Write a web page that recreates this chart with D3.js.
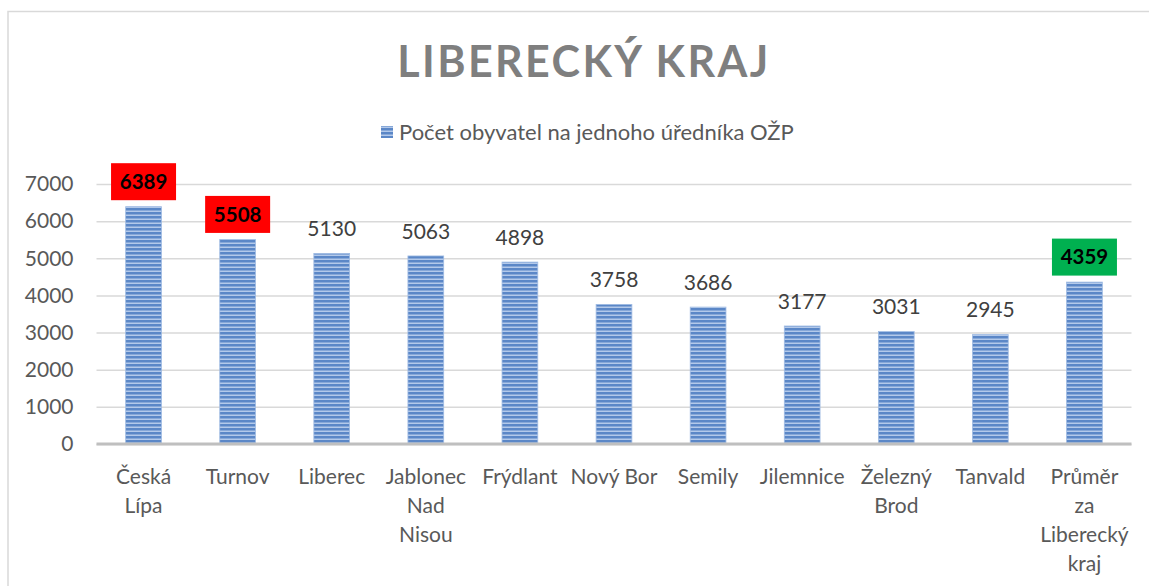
<!DOCTYPE html>
<html>
<head>
<meta charset="utf-8">
<script src="https://cdn.jsdelivr.net/npm/d3@7"></script>
<style>
  body { margin: 0; background: #fff; }
  svg text { font-family: Lato, "Open Sans", sans-serif; }
</style>
</head>
<body>
<div id="chart"></div>
<script>
var svgWidth = 1149;
var svgHeight = 586;

// data
var categories = [
  ["Česká", "Lípa"],
  ["Turnov"],
  ["Liberec"],
  ["Jablonec", "Nad", "Nisou"],
  ["Frýdlant"],
  ["Nový Bor"],
  ["Semily"],
  ["Jilemnice"],
  ["Železný", "Brod"],
  ["Tanvald"],
  ["Průměr", "za", "Liberecký", "kraj"]
];
var values = [6389, 5508, 5130, 5063, 4898, 3758, 3686, 3177, 3031, 2945, 4359];
var highlight = ["#ff0000", "#ff0000", null, null, null, null, null, null, null, null, "#00b050"];
var yTicks = [0, 1000, 2000, 3000, 4000, 5000, 6000, 7000];
var seriesName = "Počet obyvatel na jednoho úředníka OŽP";
var title = "LIBERECKÝ KRAJ";

var margin = { top: 184, left: 96.5, right: 17.5, bottom: 142 };
var width = svgWidth - margin.left - margin.right;
var height = svgHeight - margin.top - margin.bottom;

var svg = d3.select("#chart")
  .append("svg")
  .attr("width", svgWidth)
  .attr("height", svgHeight);

// striped bar fill
var defs = svg.append("defs");
var pat = defs.append("pattern")
  .attr("id", "stripes")
  .attr("patternUnits", "userSpaceOnUse")
  .attr("width", 8)
  .attr("height", 4);
pat.append("rect").attr("width", 8).attr("height", 4).attr("fill", "#b3c9ea");
pat.append("rect").attr("width", 8).attr("height", 2.5).attr("fill", "#5b87c7");

// chart border (only top and left visible)
svg.append("path")
  .attr("d", "M8,586 V11.5 H1149")
  .attr("fill", "none")
  .attr("stroke", "#d9d9d9")
  .attr("stroke-width", 1.5);

svg.append("text")
  .attr("x", 584)
  .attr("y", 77)
  .attr("text-anchor", "middle")
  .attr("font-size", 43)
  .attr("font-weight", "bold")
  .attr("letter-spacing", 2.4)
  .attr("fill", "#7f7f7f")
  .text(title);

// legend
svg.append("rect")
  .attr("x", 381).attr("y", 126)
  .attr("width", 12).attr("height", 12)
  .attr("fill", "url(#stripes)");
svg.append("text")
  .attr("x", 399).attr("y", 140)
  .attr("font-size", 22)
  .attr("fill", "#595959")
  .text(seriesName);

var chartGroup = svg.append("g")
  .attr("transform", `translate(${margin.left}, ${margin.top})`);

var x = d3.scaleBand()
  .domain(d3.range(values.length))
  .range([0, width])
  .paddingInner(0.62)
  .paddingOuter(0.31);

var y = d3.scaleLinear()
  .domain([0, 7000])
  .range([height, 0]);

// gridlines
chartGroup.append("g")
  .call(d3.axisLeft(y).tickValues(yTicks).tickSize(-width).tickFormat(""))
  .call(g => g.select(".domain").remove())
  .call(g => g.selectAll("line").attr("stroke", "#d9d9d9").attr("stroke-width", 1.5));

// y labels
chartGroup.append("g")
  .call(d3.axisLeft(y).tickValues(yTicks).tickSize(0).tickPadding(23).tickFormat(d3.format("d")))
  .call(g => g.select(".domain").remove())
  .call(g => g.selectAll("text")
    .attr("font-size", 21)
    .attr("fill", "#595959")
    .style("font-family", "Lato, 'Open Sans', sans-serif"));

chartGroup.selectAll(".bar")
  .data(values)
  .enter()
  .append("rect")
  .attr("class", "bar")
  .attr("x", (d, i) => x(i))
  .attr("y", d => y(d))
  .attr("width", x.bandwidth())
  .attr("height", d => height - y(d))
  .attr("fill", "url(#stripes)")
  .attr("stroke", "#9fbbe3")
  .attr("stroke-width", 0.8);

// baseline
chartGroup.append("line")
  .attr("x1", 0).attr("x2", width)
  .attr("y1", height).attr("y2", height)
  .attr("stroke", "#bfbfbf")
  .attr("stroke-width", 3);

// value labels
var labels = chartGroup.selectAll(".lbl")
  .data(values)
  .enter()
  .append("g")
  .attr("class", "lbl")
  .attr("transform", (d, i) => `translate(${x(i) + x.bandwidth() / 2}, ${y(d) - 25})`);

labels.filter((d, i) => highlight[i])
  .append("rect")
  .attr("x", -32.5).attr("y", -18.5)
  .attr("width", 65).attr("height", 37)
  .attr("fill", d => highlight[values.indexOf(d)]);

labels.append("text")
  .attr("text-anchor", "middle")
  .attr("dy", "0.36em")
  .attr("font-size", (d, i) => highlight[i] ? 20.5 : 21)
  .attr("font-weight", (d, i) => highlight[i] ? "bold" : "normal")
  .attr("fill", (d, i) => highlight[i] ? "#000" : "#404040")
  .text(d => d);

// category labels
var cat = chartGroup.selectAll(".cat")
  .data(categories)
  .enter()
  .append("text")
  .attr("class", "cat")
  .attr("text-anchor", "middle")
  .attr("font-size", 21)
  .attr("fill", "#595959")
  .attr("transform", (d, i) => `translate(${x(i) + x.bandwidth() / 2}, ${height + 40})`);

cat.selectAll("tspan")
  .data(d => d)
  .enter()
  .append("tspan")
  .attr("x", 0)
  .attr("dy", (d, i) => i === 0 ? 0 : 29)
  .text(d => d);
</script>
</body>
</html>
